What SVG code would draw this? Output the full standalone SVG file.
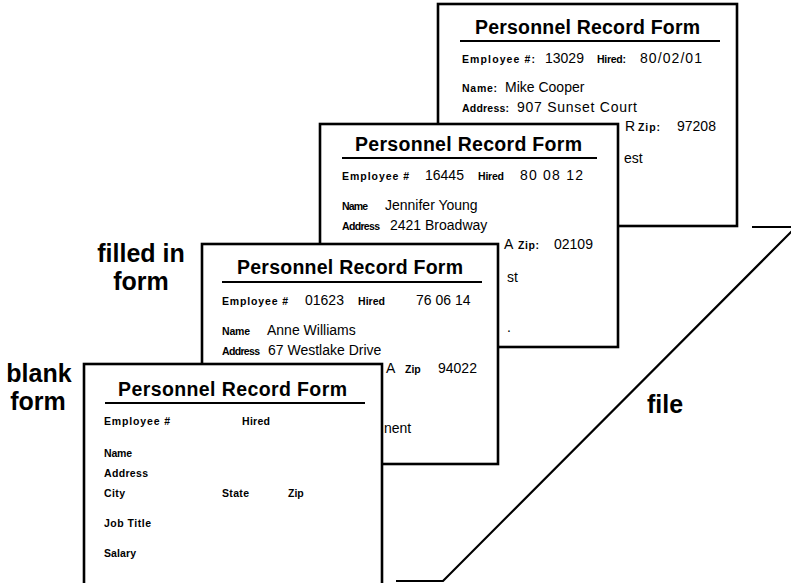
<svg xmlns="http://www.w3.org/2000/svg" width="791" height="583" viewBox="0 0 791 583">
<style>
text{font-family:"Liberation Sans",Arial,Helvetica,sans-serif;fill:#000}
.card{fill:#fff;stroke:#000;stroke-width:2.6}
.rule{stroke:#000;stroke-width:1.8}
.title{font-size:19.5px;font-weight:bold}
.lbl{font-size:10.5px;font-weight:bold}
.val{font-size:14px}
.big{font-size:25px;font-weight:bold}
.fileline{fill:none;stroke:#000;stroke-width:2.2}
</style>
<rect width="791" height="583" fill="#fff"/>
<g id="file">
<path class="fileline" d="M752 227 H800 M796 227 L443 581 H396"/>
<text class="big" x="647" y="413">file</text>
</g>
<g id="card1">
<rect class="card" x="438" y="4" width="299" height="222"/>
<text class="title" x="475" y="34" textLength="225" lengthAdjust="spacing">Personnel Record Form</text>
<line class="rule" x1="460" y1="41" x2="720" y2="41"/>
<text class="lbl" x="462" y="63" textLength="73" lengthAdjust="spacing">Employee #:</text>
<text class="val" x="545" y="63">13029</text>
<text class="lbl" x="597" y="63" textLength="29" lengthAdjust="spacing">Hired:</text>
<text class="val" x="640" y="63" textLength="62" lengthAdjust="spacing">80/02/01</text>
<text class="lbl" x="462" y="92" textLength="35" lengthAdjust="spacing">Name:</text>
<text class="val" x="505" y="92">Mike Cooper</text>
<text class="lbl" x="462" y="112" textLength="47" lengthAdjust="spacing">Address:</text>
<text class="val" x="517" y="112" textLength="120" lengthAdjust="spacing">907 Sunset Court</text>
<text class="val" x="625" y="131">R</text>
<text class="lbl" x="638" y="131" textLength="22" lengthAdjust="spacing">Zip:</text>
<text class="val" x="677" y="131">97208</text>
<text class="val" x="624" y="163">est</text>
</g>
<g id="card2">
<rect class="card" x="320" y="124" width="298" height="223"/>
<text class="title" x="355" y="151" textLength="227" lengthAdjust="spacing">Personnel Record Form</text>
<line class="rule" x1="342" y1="158" x2="597" y2="158"/>
<text class="lbl" x="342" y="180" textLength="67" lengthAdjust="spacing">Employee #</text>
<text class="val" x="425" y="180">16445</text>
<text class="lbl" x="478" y="180" textLength="26" lengthAdjust="spacing">Hired</text>
<text class="val" x="520" y="180" textLength="63" lengthAdjust="spacing">80 08 12</text>
<text class="lbl" x="342" y="210" textLength="26" lengthAdjust="spacing">Name</text>
<text class="val" x="385" y="210">Jennifer Young</text>
<text class="lbl" x="342" y="230" textLength="38" lengthAdjust="spacing">Address</text>
<text class="val" x="390" y="230">2421 Broadway</text>
<text class="val" x="504" y="249">A</text>
<text class="lbl" x="518" y="249" textLength="21" lengthAdjust="spacing">Zip:</text>
<text class="val" x="554" y="249">02109</text>
<text class="val" x="507" y="282">st</text>
<text class="val" x="507" y="332">.</text>
</g>
<g id="card3">
<rect class="card" x="202" y="244" width="296" height="220"/>
<text class="title" x="237" y="274" textLength="226" lengthAdjust="spacing">Personnel Record Form</text>
<line class="rule" x1="222" y1="282" x2="482" y2="282"/>
<text class="lbl" x="222" y="305" textLength="66" lengthAdjust="spacing">Employee #</text>
<text class="val" x="305" y="305">01623</text>
<text class="lbl" x="358" y="305" textLength="27" lengthAdjust="spacing">Hired</text>
<text class="val" x="416" y="305">76 06 14</text>
<text class="lbl" x="222" y="335" textLength="28" lengthAdjust="spacing">Name</text>
<text class="val" x="267" y="335">Anne Williams</text>
<text class="lbl" x="222" y="355" textLength="38" lengthAdjust="spacing">Address</text>
<text class="val" x="268" y="355">67 Westlake Drive</text>
<text class="val" x="386" y="373">A</text>
<text class="lbl" x="405" y="373">Zip</text>
<text class="val" x="438" y="373">94022</text>
<text class="val" x="384" y="433">nent</text>
</g>
<g id="card4">
<rect class="card" x="84" y="364" width="298" height="222"/>
<text class="title" x="118" y="396" textLength="229" lengthAdjust="spacing">Personnel Record Form</text>
<line class="rule" x1="105" y1="403" x2="365" y2="403"/>
<text class="lbl" x="104" y="425" textLength="66" lengthAdjust="spacing">Employee #</text>
<text class="lbl" x="242" y="425" textLength="28" lengthAdjust="spacing">Hired</text>
<text class="lbl" x="104" y="457" textLength="28" lengthAdjust="spacing">Name</text>
<text class="lbl" x="104" y="477" textLength="44" lengthAdjust="spacing">Address</text>
<text class="lbl" x="104" y="497" textLength="21" lengthAdjust="spacing">City</text>
<text class="lbl" x="222" y="497" textLength="27" lengthAdjust="spacing">State</text>
<text class="lbl" x="288" y="497">Zip</text>
<text class="lbl" x="104" y="527" textLength="47" lengthAdjust="spacing">Job Title</text>
<text class="lbl" x="104" y="557" textLength="32" lengthAdjust="spacing">Salary</text>
</g>
<g id="labels">
<text class="big" x="141" y="262" text-anchor="middle">filled in</text>
<text class="big" x="141" y="290" text-anchor="middle">form</text>
<text class="big" x="39" y="382" text-anchor="middle">blank</text>
<text class="big" x="38" y="410" text-anchor="middle">form</text>
</g>
</svg>
